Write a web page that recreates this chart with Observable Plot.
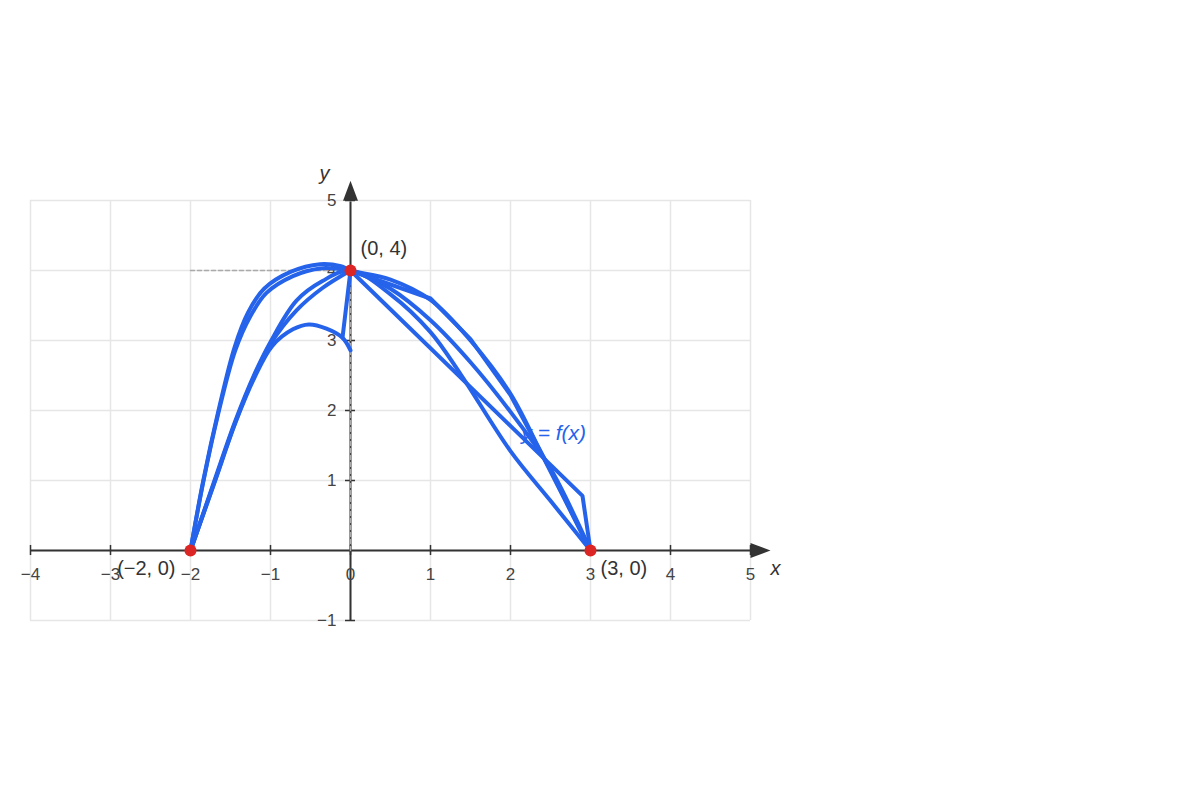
<!DOCTYPE html>
<html>
<head>
<meta charset="utf-8">
<script src="https://cdn.jsdelivr.net/npm/d3@7"></script>
<script src="https://cdn.jsdelivr.net/npm/@observablehq/plot@0.6"></script>
<style>
  html, body { margin: 0; padding: 0; background: #fff; }
  #chart svg { display: block; }
</style>
</head>
<body>
<div id="chart"></div>
<script>
// ---- data ----
const xTicks = [-4, -3, -2, -1, 0, 1, 2, 3, 4, 5];
const xTickLabels = ["−4", "−3", "−2", "−1", "0", "1", "2", "3", "4", "5"];
const yGrid = [-1, 0, 1, 2, 3, 4, 5];
const yTicks = [-1, 1, 2, 3, 4, 5];
const yTickLabels = ["−1", "1", "2", "3", "4", "5"];

const keyX = [-2, 0, 3];
const keyY = [0, 4, 0];
const keyLabels = ["(−2, 0)", "(0, 4)", "(3, 0)"];

const curveLabel = "y = f(x)";
const curveLabelPos = [2.54, 1.67];

// sketched curves (smooth)
const sketchA = [[-2,0],[-1.84,1],[-1.65,2],[-1.45,2.9],[-1.28,3.4],[-1.08,3.74],[-0.75,3.98],[-0.38,4.09],[-0.12,4.06],[0,4],
                 [0.5,3.87],[1,3.58],[1.5,3.0],[2,2.24],[2.42,1.31],[3,0]];
const sketchB = [[-2,0],[-1.84,0.98],[-1.65,1.97],[-1.44,2.86],[-1.25,3.35],[-1.05,3.68],[-0.72,3.92],[-0.38,4.03],[-0.12,4.02],[0,4],
                 [0.5,3.74],[1,3.29],[1.5,2.69],[2,1.98],[2.5,1.17],[3,0]];
const sketchC = [[-2,0],[-1.7,1.0],[-1.44,1.85],[-1.2,2.52],[-1.0,2.98],[-0.675,3.57],[-0.35,3.85],[0,4],
                 [0.5,3.66],[1,3.12],[1.375,2.52],[2,1.42],[2.5,0.71],[3,0]];
const sketchD = [[-2,0],[-1.7,0.98],[-1.44,1.83],[-1.2,2.5],[-1.0,2.95],[-0.675,3.43],[-0.35,3.75],[0,4]];
const sketchE = [[-2,0],[-1.7,0.97],[-1.44,1.82],[-1.2,2.47],[-0.98,2.92],[-0.72,3.16],[-0.52,3.23],[-0.3,3.17],[-0.1,3.04],[0,2.86]];
// sketched curves (straight segments)
const sketchF = [[-0.1,3.04],[0,4],[1,3.6],[1.5,3.02],[2,2.22],[2.5,1.15],[3,0]];
const sketchG = [[0,4],[2.9,0.78],[3,0]];

const guideH = [[-2,4],[0,4]];
const guideV = [[0,0],[0,4]];

// ---- build tables ----
const toRows = (pts, id) => pts.map(([x, y]) => ({x, y, id}));
const smoothRows = [
  ...toRows(sketchA, "A"), ...toRows(sketchB, "B"), ...toRows(sketchC, "C"),
  ...toRows(sketchD, "D"), ...toRows(sketchE, "E")
];
const straightRows = [...toRows(sketchF, "F"), ...toRows(sketchG, "G")];
const keyPoints = keyX.map((x, i) => ({x, y: keyY[i], label: keyLabels[i]}));

const blue = "#2563eb";
const red = "#dc2626";
const axisColor = "#333";

// arrowhead symbol pointing right, centred
const arrowSymbol = {
  draw(ctx, size) {
    const k = Math.sqrt(size) / 10;
    ctx.moveTo(10 * k, 0);
    ctx.lineTo(-10 * k, -7.5 * k);
    ctx.lineTo(-10 * k, 7.5 * k);
    ctx.closePath();
  }
};
const arrows = [{x: 5.125, y: 0, rot: 0}, {x: 0, y: 5.14, rot: -90}];

const chart = Plot.plot({
  width: 1200,
  height: 800,
  marginLeft: 30,
  marginRight: 450,
  marginTop: 200,
  marginBottom: 180,
  x: {domain: [-4, 5], axis: null},
  y: {domain: [-1, 5], axis: null},
  style: {fontFamily: "'Liberation Sans', Arial, sans-serif", background: "#fff"},
  marks: [
    // grid
    Plot.ruleX(xTicks, {x: d => d, y1: -1, y2: 5, stroke: "#e6e6e6", strokeWidth: 1.5}),
    Plot.ruleY(yGrid, {y: d => d, x1: -4, x2: 5, stroke: "#e6e6e6", strokeWidth: 1.5}),
    // axes
    Plot.ruleY([0], {x1: -4, x2: 5.02, stroke: axisColor, strokeWidth: 2}),
    Plot.ruleX([0], {y1: -1, y2: 4.98, stroke: axisColor, strokeWidth: 2}),
    Plot.dot(arrows, {x: "x", y: "y", rotate: "rot", symbol: arrowSymbol, r: 5.64, fill: axisColor, stroke: null}),
    Plot.ruleX(xTicks, {x: d => d, y1: -0.072, y2: 0.072, stroke: axisColor, strokeWidth: 1.5}),
    Plot.ruleY(yTicks, {y: d => d, x1: -0.0625, x2: 0.0625, stroke: axisColor, strokeWidth: 1.5}),
    // guides
    Plot.line(guideH, {x: d => d[0], y: d => d[1], stroke: "#aaa", strokeWidth: 1.5, strokeDasharray: "4,3"}),
    Plot.line(guideV, {x: d => d[0], y: d => d[1], stroke: "#aaa", strokeWidth: 1.5, strokeDasharray: "4,3"}),
    // tick labels
    Plot.text(xTicks, {x: d => d, y: 0, text: (d, i) => xTickLabels[i], dy: 24, fontSize: 17, fill: "#444"}),
    Plot.text(yTicks, {x: 0, y: d => d, text: (d, i) => yTickLabels[i], dx: -14, textAnchor: "end", fontSize: 17, fill: "#444"}),
    // axis titles
    Plot.text(["x"], {x: 5, y: 0, text: d => d, dx: 25, dy: 18, fontSize: 20, fontStyle: "italic", fill: "#333"}),
    Plot.text(["y"], {x: 0, y: 5, text: d => d, dx: -26, dy: -27, fontSize: 20, fontStyle: "italic", fill: "#333"}),
    // curves
    Plot.line(smoothRows, {x: "x", y: "y", z: "id", curve: "catmull-rom", stroke: blue, strokeWidth: 4, strokeLinejoin: "round", strokeLinecap: "round"}),
    Plot.line(straightRows, {x: "x", y: "y", z: "id", curve: "linear", stroke: blue, strokeWidth: 4, strokeLinejoin: "miter", strokeLinecap: "round"}),
    // key points
    Plot.dot(keyPoints, {x: "x", y: "y", r: 6, fill: red, stroke: null}),
    Plot.text(keyPoints.filter((d, i) => i === 0), {x: "x", y: "y", text: "label", dx: -15, dy: 18, textAnchor: "end", fontSize: 20, fill: "#333"}),
    Plot.text(keyPoints.filter((d, i) => i === 1), {x: "x", y: "y", text: "label", dx: 10, dy: -22, textAnchor: "start", fontSize: 20, fill: "#333"}),
    Plot.text(keyPoints.filter((d, i) => i === 2), {x: "x", y: "y", text: "label", dx: 10, dy: 18, textAnchor: "start", fontSize: 20, fill: "#333"}),
    // curve label
    Plot.text([curveLabel], {x: curveLabelPos[0], y: curveLabelPos[1], text: d => d, fontSize: 21, fontStyle: "italic", fill: blue})
  ]
});
document.getElementById("chart").appendChild(chart);
</script>
</body>
</html>
